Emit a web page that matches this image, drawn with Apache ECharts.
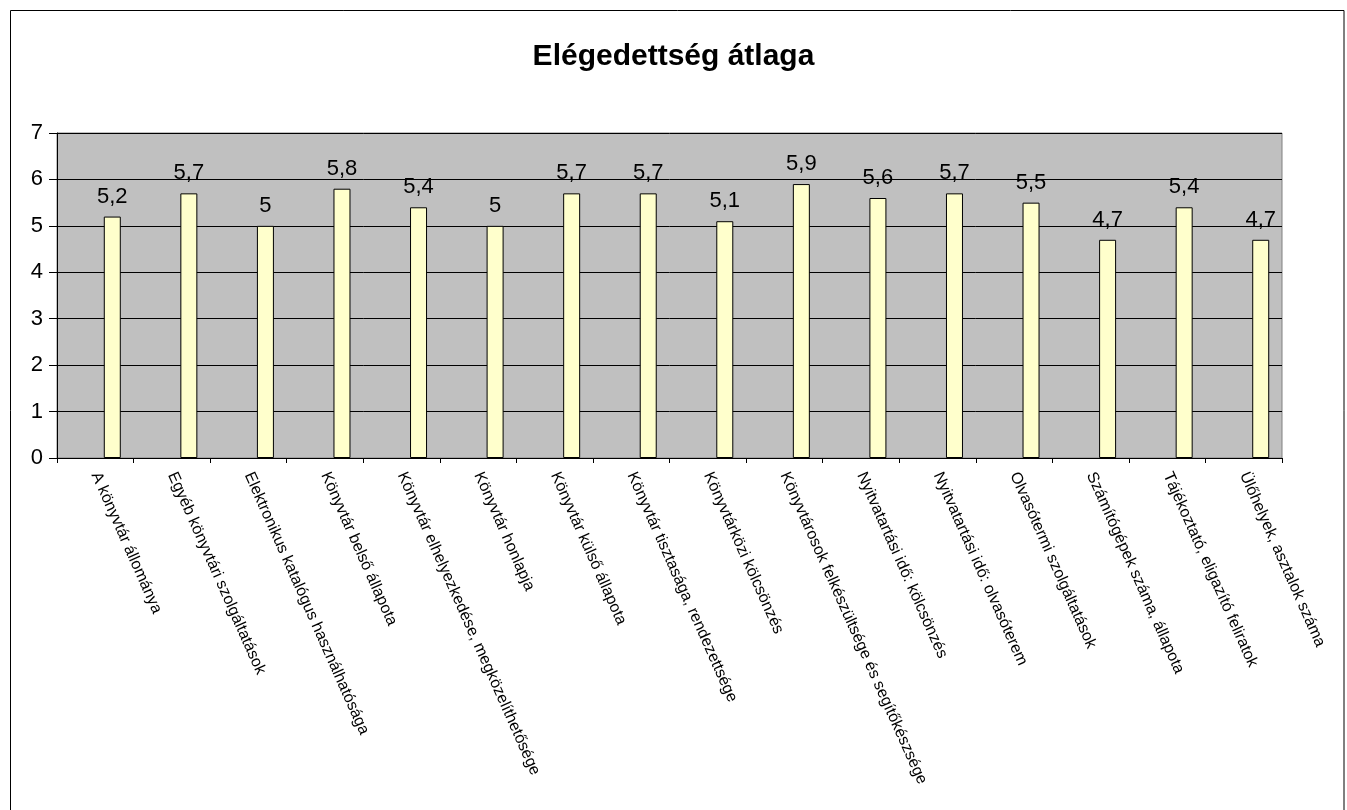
<!DOCTYPE html>
<html>
<head>
<meta charset="utf-8">
<script src="https://cdn.jsdelivr.net/npm/echarts@6/dist/echarts.min.js"></script>
<style>
html,body{margin:0;padding:0;background:#fff;}
#chart{width:1347px;height:810px;}
</style>
</head>
<body>
<div id="chart"></div>
<script>
const titleText = 'Elégedettség átlaga';
const categories = [
  'A könyvtár állománya',
  'Egyéb könyvtári szolgáltatások',
  'Elektronikus katalógus használhatósága',
  'Könyvtár belső állapota',
  'Könyvtár elhelyezkedése, megközelíthetősége',
  'Könyvtár honlapja',
  'Könyvtár külső állapota',
  'Könyvtár tisztasága, rendezettsége',
  'Könyvtárközi kölcsönzés',
  'Könyvtárosok felkészültsége és segítőkészsége',
  'Nyitvatartási idő: kölcsönzés',
  'Nyitvatartási idő: olvasóterem',
  'Olvasótermi szolgáltatások',
  'Számítógépek száma, állapota',
  'Tájékoztató, eligazító feliratok',
  'Ülőhelyek, asztalok száma'
];
const values = [5.2, 5.7, 5.0, 5.8, 5.4, 5.0, 5.7, 5.7, 5.1, 5.9, 5.6, 5.7, 5.5, 4.7, 5.4, 4.7];
const yTicks = [0, 1, 2, 3, 4, 5, 6, 7];

const chart = echarts.init(document.getElementById('chart'), null, {renderer: 'canvas'});
const font = 'Arial, "Liberation Sans", sans-serif';
chart.setOption({
  animation: false,
  backgroundColor: '#ffffff',
  graphic: [{
    type: 'rect',
    shape: {x: 10.5, y: 10.5, width: 1333.5, height: 830},
    style: {fill: 'none', stroke: '#000', lineWidth: 1},
    silent: true, z: 100
  }],
  title: {
    text: titleText,
    left: 'center',
    top: 37,
    textStyle: {fontFamily: font, fontSize: 30, fontWeight: 'bold', color: '#000'}
  },
  grid: {
    left: 57, right: 65, top: 133, bottom: 352,
    show: true,
    backgroundColor: '#C0C0C0',
    borderColor: '#808080',
    borderWidth: 1
  },
  xAxis: {
    type: 'category',
    data: categories,
    axisLine: {show: true, lineStyle: {color: '#000', width: 1}},
    axisTick: {show: true, length: 5, lineStyle: {color: '#000'}},
    axisLabel: {
      interval: 0,
      rotate: -66,
      margin: 15,
      fontFamily: font,
      fontSize: 16,
      color: '#000'
    }
  },
  yAxis: {
    type: 'value',
    min: yTicks[0],
    max: yTicks[yTicks.length - 1],
    interval: 1,
    axisLine: {show: true, lineStyle: {color: '#000', width: 1}},
    axisTick: {show: true, length: 8, lineStyle: {color: '#000'}},
    axisLabel: {margin: 14, fontFamily: font, fontSize: 22, color: '#000'},
    splitLine: {show: true, lineStyle: {color: '#000', width: 1}}
  },
  series: [{
    type: 'bar',
    name: 'spacer',
    data: [],
    barWidth: 17,
    barGap: '100%',
    silent: true
  }, {
    type: 'bar',
    name: 'Elégedettség',
    data: values,
    barWidth: 17,
    barGap: '100%',
    itemStyle: {color: '#FFFFCC', borderColor: '#000', borderWidth: 1},
    label: {
      show: true,
      position: 'top',
      distance: 9,
      fontFamily: font,
      fontSize: 22,
      color: '#000',
      formatter: p => String(p.value).replace('.', ',')
    }
  }]
});
</script>
</body>
</html>
